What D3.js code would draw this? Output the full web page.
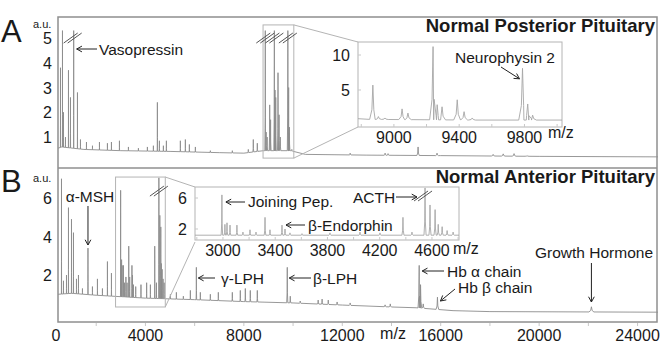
<!DOCTYPE html>
<html>
<head>
<meta charset="utf-8">
<script src="https://cdn.jsdelivr.net/npm/d3@7"></script>
<style>
  body { margin: 0; background: #fff; }
  text { font-family: "Liberation Sans", Arial, sans-serif; fill: #1a1a1a; }
</style>
</head>
<body>
<div id="chart"></div>
<script>
// ---- data (m/z, intensity in a.u.) ----
const xTicks = [0, 4000, 8000, 12000, 16000, 20000, 24000];
const xMinorTicks = [2000, 4000, 6000, 8000, 10000, 12000, 14000, 16000, 18000, 20000, 22000, 24000];
const yTicksA = [1, 2, 3, 4, 5];
const yTicksB = [2, 4, 6];
const insetATicks = [9000, 9400, 9800];
const insetAYTicks = [5, 10];
const insetBTicks = [3000, 3400, 3800, 4200, 4600];
const insetBYTicks = [2, 6];

const baselineA = [[447, 0.55], [600, 0.6], [1500, 0.5], [3000, 0.45], [5000, 0.42], [7000, 0.37],
  [8000, 0.35], [8800, 0.45], [9900, 0.45], [10500, 0.3], [13000, 0.27], [16000, 0.25], [20000, 0.22], [24830, 0.2]];
const peaksA = [[548, 3.8], [629, 5.3], [670, 2.0], [751, 1.0], [873, 3.7], [954, 2.6], [1084, 5.3],
  [1238, 2.8], [1360, 0.9], [1604, 0.8], [1848, 0.65], [2132, 0.8], [2456, 0.75], [2619, 0.8], [2944, 0.85],
  [3309, 0.6], [3715, 0.55], [4080, 0.6], [4324, 0.65], [4486, 2.4], [4568, 0.85], [4730, 0.65], [4852, 0.85],
  [5420, 0.85], [5623, 0.9], [5786, 0.7], [6030, 0.6], [6639, 0.45], [7532, 0.45], [8181, 0.5], [8384, 0.9],
  [8547, 0.75], [9950, 0.5], [12320, 0.35], [13740, 0.35], [13860, 0.33], [15080, 0.6], [15850, 0.35],
  [18130, 0.3], [18540, 0.32], [18980, 0.33], [19510, 0.25]];
const insetABaseline = [[8780, 0.9], [8850, 0.8], [9500, 0.7], [10030, 0.7]];
const insetAPeaks = [[8871, 5.7], [8905, 1.2], [8945, 1.0], [9050, 2.3], [9086, 1.7], [9240, 11.2], [9265, 2.9],
  [9295, 2.6], [9388, 3.6], [9430, 1.9], [9480, 1.0], [9788, 8.1], [9820, 3.0], [9850, 1.4]];
const brokenA = [1084, 8871, 9240, 9788];

const baselineB = [[447, 1.0], [1000, 1.05], [2000, 0.95], [4000, 0.8], [6000, 0.72], [8000, 0.62],
  [10000, 0.55], [12000, 0.44], [14000, 0.34], [15000, 0.3], [16500, 0.15], [18000, 0.1], [24830, 0.07]];
const peaksB = [[589, 7.0], [670, 1.7], [792, 2.0], [873, 5.5], [995, 4.9], [1076, 4.2], [1198, 1.8],
  [1279, 2.0], [1441, 1.3], [1665, 3.4], [1847, 1.4], [2050, 1.8], [2253, 1.3], [2456, 2.7], [2619, 2.1],
  [5015, 1.0], [5258, 1.1], [5542, 0.9], [5826, 1.2], [6070, 2.4], [6232, 1.1], [6638, 1.0], [6963, 1.1],
  [7532, 1.1], [7856, 1.2], [8060, 1.3], [8262, 1.2], [8547, 1.2], [9764, 2.4], [9886, 0.9], [10290, 0.65],
  [11020, 0.7], [11180, 0.75], [11430, 0.7], [11790, 0.6], [12320, 0.55], [13740, 0.45], [13950, 0.5],
  [15126, 2.5], [15180, 1.5], [15290, 0.5], [15867, 0.85], [22124, 0.35]];
const insetBBaseline = [[2786, 1.2], [4807, 1.2]];
const insetBPeaks = [[2992, 6.4], [3015, 2.6], [3031, 2.8], [3054, 2.5], [3107, 2.5], [3153, 1.6], [3207, 1.9],
  [3253, 1.6], [3322, 3.5], [3360, 1.9], [3452, 2.5], [3475, 2.0], [3513, 1.5], [3605, 1.4], [3819, 1.5],
  [4049, 1.6], [4202, 1.5], [4378, 3.5], [4447, 1.6], [4547, 7.3], [4585, 5.1], [4624, 4.5], [4648, 2.6],
  [4678, 2.3], [4716, 1.8], [4762, 1.6]];

// ---- layout ----
const W = 661, H = 343;
const svg = d3.select("#chart").append("svg").attr("width", W).attr("height", H);

const x = d3.scaleLinear().domain([447, 24830]).range([58, 658]);
const yA = d3.scaleLinear().domain([-0.25, 5.85]).range([168, 17]);
const yB = d3.scaleLinear().domain([-0.44, 7.56]).range([322, 168]);
const xIA = d3.scaleLinear().domain([8780, 10030]).range([358, 562]);
const yIA = d3.scaleLinear().domain([-0.29, 11.86]).range([127, 42]);
const xIB = d3.scaleLinear().domain([2786, 4807]).range([195, 459]);
const yIB = d3.scaleLinear().domain([0.58, 7.42]).range([240, 187]);

const halfWidth = mz => 4 + mz * mz * 2e-7;

function spectrum(base, peaks, clip) {
  const b = d3.scaleLinear().domain(base.map(d => d[0])).range(base.map(d => d[1]));
  const pts = base.map(d => [d[0], d[1]]);
  peaks.forEach(([mz, top]) => {
    const w = halfWidth(mz), t = Math.min(top, clip), b0 = b(mz);
    pts.push([mz - w, b(mz - w)], [mz - w * 0.3, b0 + (t - b0) * 0.28], [mz, t],
             [mz + w * 0.3, b0 + (t - b0) * 0.28], [mz + w, b(mz + w)]);
  });
  return pts.sort((p, q) => p[0] - q[0]);
}

function drawSpectrum(g, pts, xs, ys, color) {
  g.append("path").datum(pts)
    .attr("d", d3.line().x(d => xs(d[0])).y(d => ys(d[1])))
    .attr("fill", "none").attr("stroke", color).attr("stroke-width", 0.9);
}

function arrow(g, x1, y1, x2, y2) {
  const a = Math.atan2(y2 - y1, x2 - x1), L = 6, s = 0.5;
  g.append("path")
    .attr("d", `M${x1},${y1}L${x2},${y2}M${x2 - L * Math.cos(a - s)},${y2 - L * Math.sin(a - s)}L${x2},${y2}L${x2 - L * Math.cos(a + s)},${y2 - L * Math.sin(a + s)}`)
    .attr("fill", "none").attr("stroke", "#222").attr("stroke-width", 1);
}

function breakMark(g, cx, cy) {
  [-2, 2].forEach(dx => {
    g.append("line")
      .attr("x1", cx - 7 + dx).attr("y1", cy + 5)
      .attr("x2", cx + 7 + dx).attr("y2", cy - 5)
      .attr("stroke", "#555").attr("stroke-width", 1);
  });
}

function label(g, tx, ty, str, opts = {}) {
  return g.append("text").attr("x", tx).attr("y", ty)
    .attr("font-size", opts.size || 15.5)
    .attr("font-weight", opts.weight || "normal")
    .attr("text-anchor", opts.anchor || "start").text(str);
}

const g = svg.append("g");

// main spectra
drawSpectrum(g, spectrum(baselineA, peaksA.concat(insetAPeaks), 5.3), x, yA, "#8c8c8c");
drawSpectrum(g, spectrum(baselineB, peaksB.concat(insetBPeaks), 7.05), x, yB, "#8c8c8c");

// frame
g.append("rect").attr("x", 58).attr("y", 17).attr("width", 599).attr("height", 305)
  .attr("fill", "none").attr("stroke", "#8f8f8f").attr("stroke-width", 1.5);
g.append("line").attr("x1", 58).attr("x2", 657).attr("y1", 168).attr("y2", 168)
  .attr("stroke", "#8f8f8f").attr("stroke-width", 1.5);

// x axis
g.selectAll(".xminor").data(xMinorTicks).enter().append("line")
  .attr("x1", d => x(d)).attr("x2", d => x(d)).attr("y1", 323).attr("y2", 326)
  .attr("stroke", "#c8c8c8");
g.selectAll(".xlab").data(xTicks).enter().append("text")
  .attr("x", d => x(Math.max(d, x.domain()[0])) - (d === 0 ? 2 : 0))
  .attr("y", 341).attr("font-size", 16).attr("text-anchor", "middle").text(d => d);
label(g, 393, 339, "m/z", { anchor: "middle", size: 16 });

// y axes
g.selectAll(".yA").data(yTicksA).enter().append("text")
  .attr("x", 52).attr("y", d => yA(d) + 6).attr("font-size", 16).attr("text-anchor", "end").text(d => d);
g.selectAll(".yB").data(yTicksB).enter().append("text")
  .attr("x", 52).attr("y", d => yB(d) + 6).attr("font-size", 16).attr("text-anchor", "end").text(d => d);
label(g, 33, 28, "a.u.", { size: 11 });
label(g, 33, 182, "a.u.", { size: 11 });
label(g, 1, 42, "A", { size: 31 });
label(g, 1, 192, "B", { size: 31 });

// titles
label(g, 655, 32, "Normal Posterior Pituitary", { anchor: "end", weight: "bold", size: 18.5 });
label(g, 655, 183, "Normal Anterior Pituitary", { anchor: "end", weight: "bold", size: 18.5 });

// selection boxes & zoom lines
const zoomStroke = "#b4b4b4";
// panel A
{
  const [m0, m1] = xIA.domain();
  const sx0 = x(m0), sx1 = x(m1), sy0 = yA(5.53), sy1 = yA(0.15);
  g.append("rect").attr("x", sx0).attr("y", sy0).attr("width", sx1 - sx0).attr("height", sy1 - sy0)
    .attr("fill", "none").attr("stroke", zoomStroke);
  g.append("line").attr("x1", sx1).attr("y1", sy0).attr("x2", xIA.range()[0]).attr("y2", yIA.range()[1]).attr("stroke", zoomStroke);
  g.append("line").attr("x1", sx1).attr("y1", sy1).attr("x2", xIA.range()[0]).attr("y2", yIA.range()[0]).attr("stroke", zoomStroke);
}
// panel B
{
  const [m0, m1] = xIB.domain();
  const sx0 = x(m0), sx1 = x(m1), sy0 = yB(7.09), sy1 = yB(0.34);
  g.append("rect").attr("x", sx0).attr("y", sy0).attr("width", sx1 - sx0).attr("height", sy1 - sy0)
    .attr("fill", "none").attr("stroke", zoomStroke);
  g.append("line").attr("x1", sx1).attr("y1", sy0).attr("x2", xIB.range()[0]).attr("y2", yIB.range()[1]).attr("stroke", zoomStroke);
  g.append("line").attr("x1", sx1).attr("y1", sy1).attr("x2", xIB.range()[0]).attr("y2", yIB.range()[0] + 2).attr("stroke", zoomStroke);
}

// break marks on main spectra
brokenA.forEach(mz => breakMark(g, x(mz) + (mz === 1084 ? -1 : 0), yA(5.0)));
breakMark(g, x(4547), yB(6.36));

// insets
function inset(xs, ys, base, peaks, xt, yt, step) {
  const ig = g.append("g");
  ig.append("rect").attr("x", xs.range()[0]).attr("y", ys.range()[1])
    .attr("width", xs.range()[1] - xs.range()[0]).attr("height", ys.range()[0] - ys.range()[1])
    .attr("fill", "#fff").attr("stroke", zoomStroke);
  drawSpectrum(ig, spectrum(base, peaks, ys.domain()[1] - 0.1), xs, ys, "#a6a6a6");
  const minor = d3.range(Math.ceil(xs.domain()[0] / step) * step, xs.domain()[1], step);
  ig.selectAll(".t").data(minor).enter().append("line")
    .attr("x1", d => xs(d)).attr("x2", d => xs(d)).attr("y1", ys.range()[0]).attr("y2", ys.range()[0] - 3)
    .attr("stroke", "#c8c8c8");
  ig.selectAll(".xl").data(xt).enter().append("text")
    .attr("x", d => xs(d)).attr("y", ys.range()[0] + 16).attr("font-size", 16)
    .attr("text-anchor", "middle").text(d => d);
  ig.selectAll(".yl").data(yt).enter().append("text")
    .attr("x", xs.range()[0] - 8).attr("y", d => ys(d) + 6).attr("font-size", 16)
    .attr("text-anchor", "end").text(d => d);
  ig.selectAll(".yt").data(yt).enter().append("line")
    .attr("x1", xs.range()[0]).attr("x2", xs.range()[0] + 3).attr("y1", d => ys(d)).attr("y2", d => ys(d))
    .attr("stroke", "#c8c8c8");
  return ig;
}
const iga = inset(xIA, yIA, insetABaseline, insetAPeaks, insetATicks, insetAYTicks, 200);
label(iga, 548, 138, "m/z", { size: 16 });
label(iga, 455, 63, "Neurophysin 2", { size: 15.5 });
arrow(iga, 501, 67, xIA(9788) - 3, yIA(6.6));

const igb = inset(xIB, yIB, insetBBaseline, insetBPeaks, insetBTicks, insetBYTicks, 200);
label(igb, 453, 254, "m/z", { size: 16 });
breakMark(igb, xIB(4547) - 2, yIB(6.26));

// annotations, panel A
arrow(g, 97, 49, x(1084) + 3, 49);
label(g, 99, 55, "Vasopressin");

// annotations, panel B inset
arrow(g, 245, 202, xIB(2992) + 4, 202);
label(g, 248, 207, "Joining Pep.");
label(g, 353, 203, "ACTH");
arrow(g, 396, 197, 417, 197);
arrow(g, 305, 225, xIB(3452) + 4, 225);
label(g, 308, 231, "β-Endorphin");

// annotations, panel B main
label(g, 90, 202, "α-MSH", { anchor: "middle" });
arrow(g, x(1665), 206, x(1665), 245);
arrow(g, 215, 278, x(6070) + 2, 278);
label(g, 221, 284, "γ-LPH");
arrow(g, 311, 278, x(9764) + 2, 278);
label(g, 313, 284, "β-LPH");
arrow(g, 444, 271, x(15126) + 3, 271);
label(g, 447, 277, "Hb α chain");
arrow(g, 455, 289, x(15867) + 3, 301);
label(g, 458, 293, "Hb β chain");
label(g, 594, 258, "Growth Hormone", { anchor: "middle" });
arrow(g, x(22124), 263, x(22124), 302);
</script>
</body>
</html>
